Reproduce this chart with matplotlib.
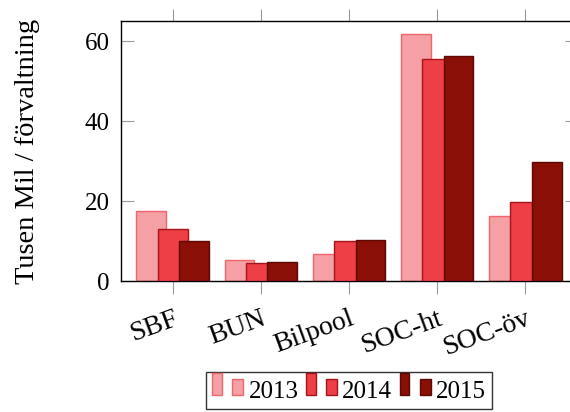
import numpy as np
import matplotlib
matplotlib.use('Agg')
import matplotlib.pyplot as plt
from matplotlib.patches import Rectangle

plt.rcParams['font.family'] = ['Liberation Serif', 'DejaVu Serif']

# data
categories = ['SBF', 'BUN', 'Bilpool', 'SOC-ht', 'SOC-öv']
years = ['2013', '2014', '2015']
v2013 = [17.6, 5.3, 6.8, 61.7, 16.2]
v2014 = [13.0, 4.5, 9.9, 55.5, 19.7]
v2015 = [10.1, 4.8, 10.3, 56.3, 29.7]

fills = ['#f5a0a4', '#ee3e46', '#8a0f06']
edges = ['#f0656b', '#a5141a', '#5c0804']


class TwoBarHandler:
    def legend_artist(self, legend, orig_handle, fontsize, handlebox):
        x0, y0 = handlebox.xdescent, handlebox.ydescent
        w, h = handlebox.width, handlebox.height
        fc = orig_handle.get_facecolor()
        ec = orig_handle.get_edgecolor()
        r1 = Rectangle([x0, y0], w * 0.3, h, facecolor=fc, edgecolor=ec, lw=1,
                       transform=handlebox.get_transform())
        r2 = Rectangle([x0 + w * 0.62, y0], w * 0.34, h * 0.72, facecolor=fc, edgecolor=ec, lw=1,
                       transform=handlebox.get_transform())
        handlebox.add_artist(r1)
        handlebox.add_artist(r2)
        return r1


fig = plt.figure(figsize=(5.7, 4.12), dpi=100)
ax = fig.add_axes([121 / 570, 1 - 281 / 412, 456 / 570, 260 / 412])

x = np.arange(len(categories))
offs = [-0.244, 0, 0.244]
handles = []
for i, vals in enumerate([v2013, v2014, v2015]):
    b = ax.bar(x + offs[i], vals, width=0.34, color=fills[i], edgecolor=edges[i],
               linewidth=1, label=years[i], zorder=2 + i)
    handles.append(b.patches[0])

ax.set_xlim(-0.59, 4.59)
ax.set_ylim(0, 65)
ax.set_yticks([0, 20, 40, 60])
ax.set_xticks(x)
ax.set_xticklabels(categories, rotation=20, ha='right', va='top', rotation_mode='anchor')
ax.tick_params(axis='x', direction='out', length=9, width=0.8, color='#999999',
               top=True, labelsize=20, pad=9)
ax.tick_params(axis='y', direction='in', length=9, width=0.8, color='#999999',
               right=True, labelsize=18, pad=8)
for s in ax.spines.values():
    s.set_linewidth(1)
    s.set_color('black')
ax.set_ylabel('Tusen Mil / förvaltning', fontsize=20.5, labelpad=32)

fig.legend(handles, years, loc='upper center', bbox_to_anchor=(349 / 570, 1 - 372 / 412),
           ncol=3, fontsize=18, frameon=True, fancybox=False, edgecolor='black',
           handler_map={h: TwoBarHandler() for h in handles},
           handlelength=1.3, handleheight=1.0, handletextpad=0.15, columnspacing=0.3,
           borderpad=0.25, borderaxespad=0)
fig.legends[0].get_frame().set_linewidth(1)

plt.savefig('out.png', dpi=100)
